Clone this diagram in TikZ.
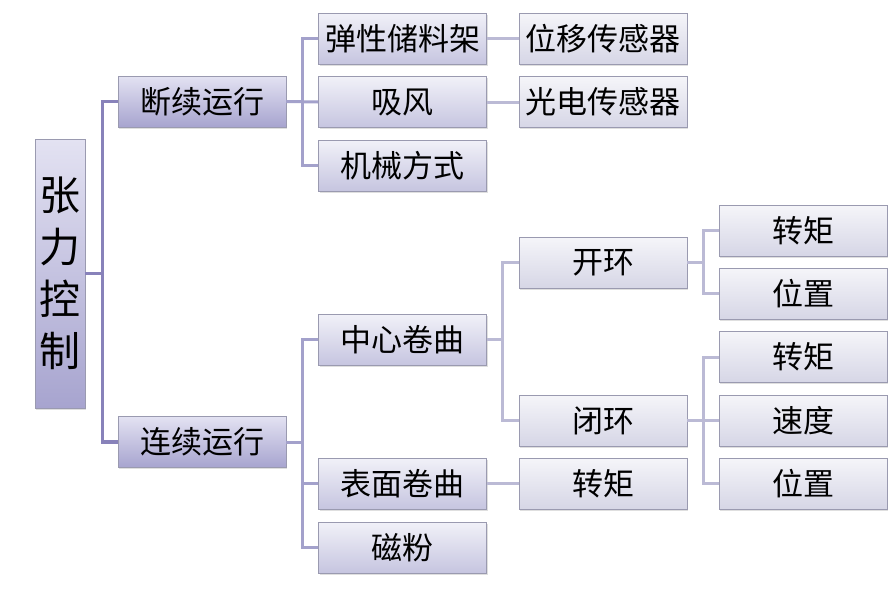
\documentclass[tikz,border=0pt]{standalone}
\usepackage{fontspec}
\newfontfamily\cjk{Noto Sans CJK SC}
\usetikzlibrary{shadows}
\definecolor{rootT}{HTML}{E3E2F2}
\definecolor{rootB}{HTML}{A7A4CF}
\definecolor{midT}{HTML}{F1F1F8}
\definecolor{midB}{HTML}{C6C5E0}
\definecolor{lowT}{HTML}{F5F5F9}
\definecolor{lowB}{HTML}{D6D6E6}
\definecolor{lineA}{HTML}{8882BA}
\definecolor{lineB}{HTML}{A3A1CB}
\definecolor{lineC}{HTML}{BBBAD5}
\definecolor{edge}{HTML}{9A9AB0}
\tikzset{
  boxbase/.style={draw=edge, line width=0.8pt, minimum width=168pt, minimum height=51pt, inner sep=0pt,
    font=\cjk\fontsize{31}{31}\selectfont,
    drop shadow={opacity=0.25, shadow xshift=1pt, shadow yshift=-1.5pt}},
  lvA/.style={boxbase, top color=rootT, bottom color=rootB},
  lvB/.style={boxbase, top color=midT, bottom color=midB},
  lvC/.style={boxbase, top color=lowT, bottom color=lowB},
  conA/.style={draw=lineA, line width=3.5pt},
  conB/.style={draw=lineB, line width=3pt},
  conC/.style={draw=lineC, line width=3pt},
}
\begin{document}
\begin{tikzpicture}[x=1pt,y=-1pt]
\useasboundingbox (0,0) rectangle (894,598);
% root
\node[boxbase, top color=rootT, bottom color=rootB, minimum width=50pt, minimum height=269pt,
  font=\cjk\fontsize{41}{52}\selectfont, align=center] (root) at (60,273.5) {张\\力\\控\\制};
% level 1
\node[lvA] (a) at (202,101.5) {断续运行};
\node[lvA] (b) at (202,442) {连续运行};
% level 2
\node[lvB] (a1) at (402.5,38.5) {弹性储料架};
\node[lvB] (a2) at (402.5,102) {吸风};
\node[lvB] (a3) at (402.5,165.5) {机械方式};
\node[lvB] (b1) at (402.5,339.5) {中心卷曲};
\node[lvB] (b2) at (402.5,483.5) {表面卷曲};
\node[lvB] (b3) at (402.5,547.5) {磁粉};
% level 3
\node[lvC] (a1x) at (603,38.5) {位移传感器};
\node[lvC] (a2x) at (603,102) {光电传感器};
\node[lvC] (b1o) at (603,262.5) {开环};
\node[lvC] (b1c) at (603,420.5) {闭环};
\node[lvC] (b2x) at (603,483.5) {转矩};
% level 4
\node[lvC] (o1) at (803,230.5) {转矩};
\node[lvC] (o2) at (803,293.5) {位置};
\node[lvC] (c1) at (803,357) {转矩};
\node[lvC] (c2) at (803,420.5) {速度};
\node[lvC] (c3) at (803,483.5) {位置};
% connectors
\draw[conA] (root.east) -- ++(17,0) |- (a.west);
\draw[conA] (root.east) -- ++(17,0) |- (b.west);
\draw[conB] (a.east) -- ++(16,0) |- (a1.west);
\draw[conB] (a.east) -- (a2.west);
\draw[conB] (a.east) -- ++(16,0) |- (a3.west);
\draw[conB] (b.east) -- ++(16,0) |- (b1.west);
\draw[conB] (b.east) -- ++(16,0) |- (b2.west);
\draw[conB] (b.east) -- ++(16,0) |- (b3.west);
\draw[conC] (a1.east) -- (a1x.west);
\draw[conC] (a2.east) -- (a2x.west);
\draw[conC] (b1.east) -- ++(16,0) |- (b1o.west);
\draw[conC] (b1.east) -- ++(16,0) |- (b1c.west);
\draw[conC] (b2.east) -- (b2x.west);
\draw[conC] (b1o.east) -- ++(16,0) |- (o1.west);
\draw[conC] (b1o.east) -- ++(16,0) |- (o2.west);
\draw[conC] (b1c.east) -- ++(16,0) |- (c1.west);
\draw[conC] (b1c.east) -- (c2.west);
\draw[conC] (b1c.east) -- ++(16,0) |- (c3.west);
\end{tikzpicture}
\end{document}
